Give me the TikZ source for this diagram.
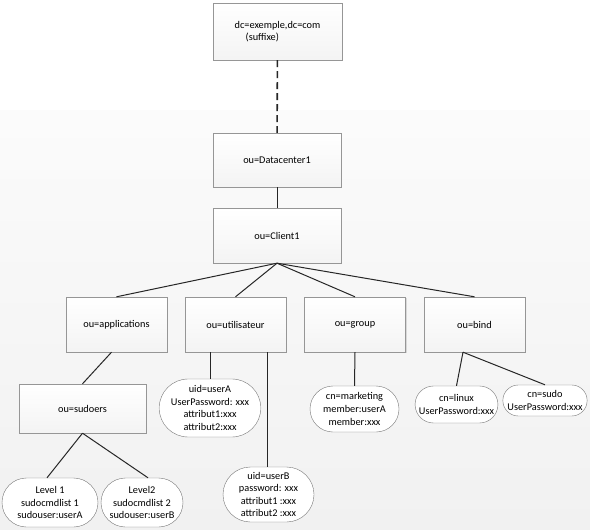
\documentclass[tikz,border=0pt]{standalone}
\usepackage{fontspec}
\setmainfont{Carlito}
\usepackage{tikz}
\usetikzlibrary{shapes.misc,shadows,calc,positioning}
\definecolor{boxline}{RGB}{150,150,150}
\definecolor{leafline}{RGB}{120,120,120}

\begin{document}
\begin{tikzpicture}[x=1pt, y=-1pt,
    every node/.style={font=\fontsize{10.3}{12.6}\selectfont, align=center},
    ou/.style={rectangle, draw=boxline, top color=white, bottom color=gray!9, inner sep=1pt,
        drop shadow={shadow xshift=1.2pt, shadow yshift=-1.2pt, opacity=0.25}},
    ent/.style={rounded rectangle, draw=leafline, fill=white, inner sep=1pt},
    link/.style={black!85, line width=1pt},
    dashlink/.style={black!85, line width=1.6pt, dash pattern=on 7pt off 4pt}
]
\useasboundingbox (0,0) rectangle (590,530);
% background
\fill[white] (0,0) rectangle (590,530);
\shade[top color=gray!3, bottom color=gray!11] (0,110) rectangle (590,530);

% root and branch
\node[ou, minimum width=129, minimum height=57, align=left] (Suffix) at (277.5,31.5)
    {dc=exemple,dc=com\\\hspace*{11pt}(suffixe)};
\node[ou, minimum width=128, minimum height=54] (Datacenter) at (277,160) {ou=Datacenter1};
\node[ou, minimum width=128, minimum height=55] (Client) at (277,235.5) {ou=Client1};

\foreach \n/\x/\lab in {Appli/116.5/applications, Util/235.5/utilisateur, Group/355/group, Bind/474.5/bind} {
    \node[ou, minimum width=101, minimum height=55] (\n) at (\x,324.5) {ou=\lab};
}
\node[ou, minimum width=127, minimum height=49] (Sudoers) at (82.5,408.5) {ou=sudoers};

% entries
\node[ent, minimum width=98, minimum height=49] (LevelA) at (50,502.5)
    {Level 1\\sudocmdlist 1\\sudouser:userA};
\node[ent, minimum width=84, minimum height=49] (LevelB) at (142,502.5)
    {Level2\\sudocmdlist 2\\sudouser:userB};
\node[ent, minimum width=88, minimum height=58] (UserA) at (210,408)
    {uid=userA\\UserPassword: xxx\\attribut1:xxx\\attribut2:xxx};
\node[ent, minimum width=93, minimum height=55] (UserB) at (268.5,494.5)
    {uid=userB\\password: xxx\\attribut1 :xxx\\attribut2 :xxx};
\node[ent, minimum width=91, minimum height=46] (Marketing) at (354.5,409)
    {cn=marketing\\member:userA\\member:xxx};
\node[ent, minimum width=81, minimum height=37] (Linux) at (456.5,404.5)
    {cn=linux\\UserPassword:xxx};
\node[ent, minimum width=84, minimum height=31] (Sudo) at (545,400.5)
    {cn=sudo\\UserPassword:xxx};

% connections
\draw[dashlink] (Suffix) -- (Datacenter);
\draw[link] (Datacenter) -- (Client);
\foreach \n in {Appli, Util, Group, Bind}
    \draw[link] (Client.south) -- (\n.north);
\draw[link] ($(Appli.south)+(-5,0)$) -- (Sudoers.north);
\draw[link] (Sudoers.south) -- ($(LevelA.north)+(-3,0)$);
\draw[link] (Sudoers.south) -- ($(LevelB.north)+(6,0)$);
\draw[link] (UserA.north |- Util.south) -- (UserA.north);
\draw[link] ($(UserB.north |- Util.south)+(-1.5,0)$) -- ($(UserB.north)+(-1.5,0)$);
\draw[link] (Group.south) -- (Marketing.north);
\coordinate (BindFork) at ($(Bind.south)+(-11.5,0)$);
\draw[link] (BindFork) -- (Linux.north);
\draw[link] (BindFork) -- (Sudo.north);
\end{tikzpicture}
\end{document}
